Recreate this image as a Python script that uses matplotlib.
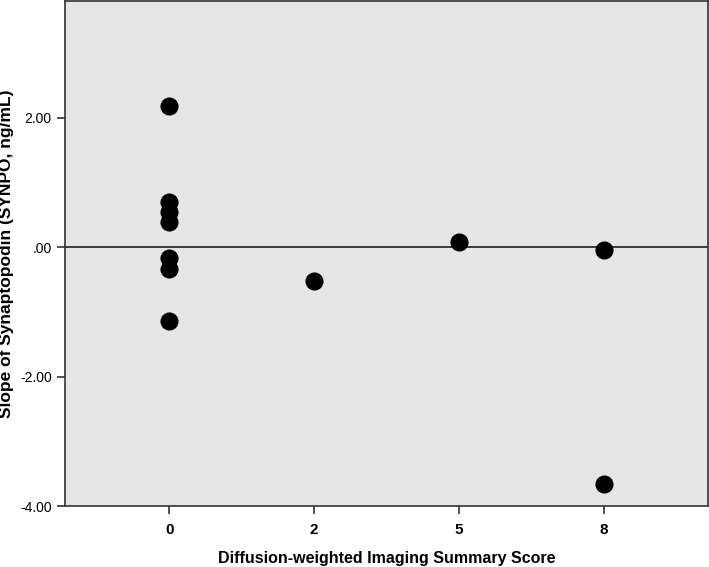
import matplotlib
matplotlib.use("Agg")
import matplotlib.pyplot as plt

categories = ["0", "2", "5", "8"]
point_cat = ["0", "0", "0", "0", "0", "0", "0", "2", "5", "8", "8"]
point_val = [2.18, 0.70, 0.54, 0.39, -0.17, -0.34, -1.14, -0.52, 0.08, -0.05, -3.66]
yticks = [-4.0, -2.0, 0.0, 2.0]
ytick_labels = ["-4.00", "-2.00", ".00", "2.00"]

plt.rcParams['font.family'] = ['Liberation Sans', 'DejaVu Sans']
fig = plt.figure(figsize=(7.09, 5.67), dpi=100)
ax = fig.add_axes([65/709, 61/567, 643/709, 505/567])
ax.set_facecolor("#e6e6e6")

xpos = [categories.index(c) for c in point_cat]
ax.axhline(0, color="#3a3a3a", lw=1.4, zorder=1)
ax.scatter(xpos, point_val, s=170, color="black", zorder=3, linewidths=0)

ax.set_xlim(-0.72, 3.72)
ax.set_ylim(-4.0, 3.8)
ax.set_xticks(range(len(categories)))
ax.set_xticklabels(categories, fontsize=11, fontweight="bold")
ax.set_yticks(yticks)
ax.set_yticklabels(ytick_labels, fontsize=10)
ax.tick_params(axis="both", direction="out", length=6, width=1.2, color="#333333")
ax.tick_params(axis="x", pad=6)
for sp in ax.spines.values():
    sp.set_visible(True)
    sp.set_color("#333333")
    sp.set_linewidth(1.2)

ax.set_xlabel("Diffusion-weighted Imaging Summary Score", fontsize=11.5, fontweight="bold", labelpad=10)
ax.set_ylabel("Slope of Synaptopodin (SYNPO, ng/mL)", fontsize=12.5, fontweight="bold", labelpad=4)

fig.savefig("out.png", dpi=100, facecolor="white")
